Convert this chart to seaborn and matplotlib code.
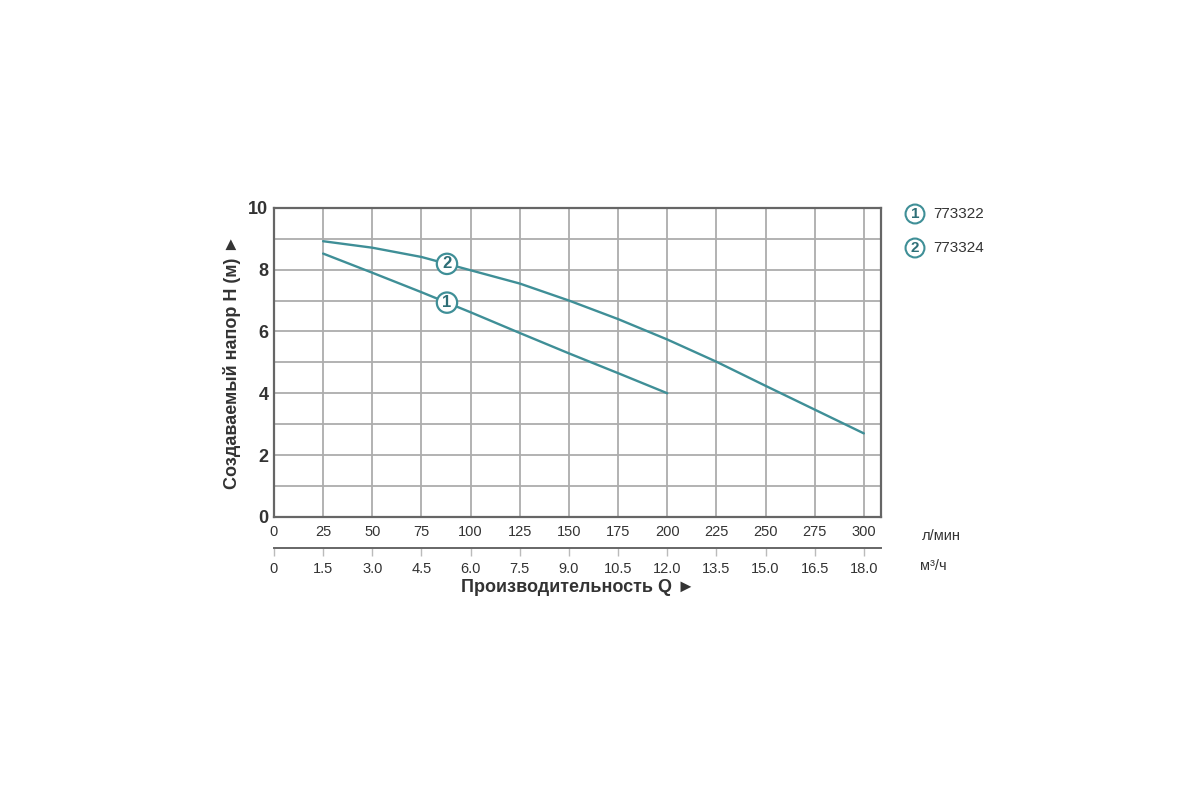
import numpy as np
import pandas as pd
import matplotlib
matplotlib.use("Agg")
import matplotlib.pyplot as plt
import seaborn as sns

# ---- data ----
q_lmin_1 = [25, 50, 75, 100, 125, 150, 175, 200]
h_1 = [8.52, 7.90, 7.27, 6.62, 5.95, 5.29, 4.65, 4.00]
q_lmin_2 = [25, 50, 75, 100, 125, 150, 175, 200, 225, 250, 275, 300]
h_2 = [8.92, 8.71, 8.41, 7.98, 7.55, 7.00, 6.40, 5.74, 5.02, 4.24, 3.47, 2.70]
series_ids = ["1", "2"]
series_names = ["773322", "773324"]
label_q = 88
x_ticks = [0, 25, 50, 75, 100, 125, 150, 175, 200, 225, 250, 275, 300]
m3h_ticks = [0, 1.5, 3.0, 4.5, 6.0, 7.5, 9.0, 10.5, 12.0, 13.5, 15.0, 16.5, 18.0]
y_ticks = [0, 2, 4, 6, 8, 10]

TEAL = "#3f8f97"
FONT = ["Liberation Sans Narrow", "Liberation Sans", "DejaVu Sans"]

sns.set_theme(style="white")
plt.rcParams["font.family"] = FONT

df = pd.concat([
    pd.DataFrame({"Q": q_lmin_1, "H": h_1, "id": series_ids[0]}),
    pd.DataFrame({"Q": q_lmin_2, "H": h_2, "id": series_ids[1]}),
])

fig = plt.figure(figsize=(12, 8), dpi=100)
ax = fig.add_axes([0.2283, 0.354, 0.5058, 0.3862])

sns.lineplot(data=df, x="Q", y="H", units="id", estimator=None,
             color=TEAL, lw=1.7, ax=ax, legend=False, sort=True)

# circled curve labels
for qs, hs, sid in [(q_lmin_1, h_1, "1"), (q_lmin_2, h_2, "2")]:
    hy = np.interp(label_q, qs, hs)
    ax.text(label_q, hy, sid, ha="center", va="center", fontsize=12,
            color="#2e6f77", fontweight="bold", zorder=5,
            bbox=dict(boxstyle="circle,pad=0.16", fc="white", ec=TEAL, lw=1.6))

ax.set_xlim(0, 308.7)
ax.set_ylim(0, 10)
ax.set_xticks(x_ticks)
ax.set_xticklabels([str(t) for t in x_ticks])
ax.set_yticks(y_ticks)
ax.set_yticks([1, 3, 5, 7, 9], minor=True)
ax.grid(True, which="both", color="#adadad", lw=1.3)
ax.set_axisbelow(True)
for s in ax.spines.values():
    s.set_color("#666666")
    s.set_linewidth(1.6)
ax.tick_params(axis="x", length=0, pad=6, labelsize=10.5, labelcolor="#333333")
ax.tick_params(axis="y", which="both", length=0, pad=4, labelsize=13, labelcolor="#333333")
for lab in ax.get_yticklabels():
    lab.set_fontweight("bold")
ax.set_xlabel("")
ax.set_ylabel("Создаваемый напор Н (м) ►", fontsize=13, fontweight="bold",
              color="#333333", labelpad=5, family=FONT)

# secondary axis in m3/h
sec = ax.secondary_xaxis(-0.1, functions=(lambda q: q * 0.06, lambda m: m / 0.06))
sec.set_xticks(m3h_ticks)
sec.set_xticklabels(["0" if t == 0 else f"{t:.1f}" for t in m3h_ticks])
sec.spines["bottom"].set_color("#666666")
sec.spines["bottom"].set_linewidth(1.4)
sec.tick_params(axis="x", direction="out", length=6, width=1.0, color="#bbbbbb",
                labelsize=10.5, labelcolor="#333333", pad=4)

fig.text(0.768, 1 - 536 / 800, "л/мин", fontsize=10.5, color="#333333", va="center")
fig.text(0.767, 1 - 566 / 800, "м³/ч", fontsize=10.5, color="#333333", va="center")
fig.text(0.4815, 1 - 588 / 800, "Производительность Q ►", fontsize=13,
         fontweight="bold", color="#333333", ha="center", va="center")

# legend
for i, (sid, name) in enumerate(zip(series_ids, series_names)):
    yy = 1 - (214 + 34 * i) / 800
    fig.text(0.7625, yy, sid, fontsize=11, color="#2e6f77", ha="center", va="center",
             fontweight="bold",
             bbox=dict(boxstyle="circle,pad=0.16", fc="white", ec=TEAL, lw=1.5))
    fig.text(0.7775, yy, name, fontsize=11, color="#333333", ha="left", va="center")

fig.savefig("out.png", dpi=100, facecolor="white")
